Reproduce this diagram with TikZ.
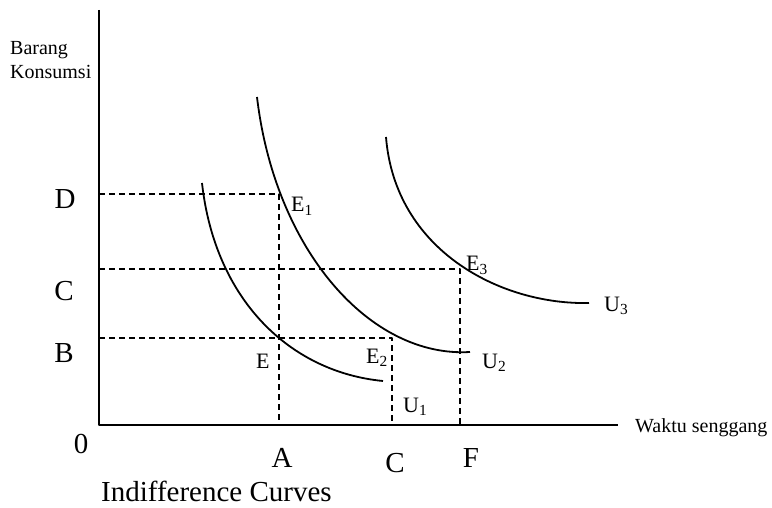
\documentclass[tikz,border=0pt]{standalone}
\usepackage{fontspec}
\setmainfont{Liberation Serif}
\begin{document}
\begin{tikzpicture}[x=1pt,y=-1pt,line join=round,
  axis/.style={line width=2.4pt},
  curve/.style={line width=1.8pt},
  guide/.style={line width=1.6pt,dash pattern=on 6pt off 4pt},
  biglbl/.style={anchor=base,inner sep=0pt,font=\fontsize{29}{32}\selectfont},
  ptlbl/.style={anchor=base west,inner sep=0pt,font=\fontsize{22}{25}\selectfont},
  axlbl/.style={inner sep=0pt,font=\fontsize{20}{24}\selectfont}]
\useasboundingbox (0,0) rectangle (772,508);
% sumbu
\coordinate (O) at (99,425);
\coordinate (ytop) at (99,10);
\coordinate (xend) at (618,425);
\draw[axis] (ytop) -- (O) -- (xend);
% titik keseimbangan
\coordinate (yD) at (99,194);
\coordinate (yC) at (99,269);
\coordinate (yB) at (99,338);
\coordinate (E1) at (279,194);
\coordinate (E3) at (460,269);
\coordinate (E2) at (392,338);
\coordinate (xA) at (279,425);
\coordinate (xF) at (460,425);
\coordinate (xC) at (392,425);
\draw[guide] (yD) -- (E1) -- (xA);
\draw[guide] (yC) -- (E3) -- (xF);
\draw[guide] (yB) -- (E2) -- (xC);
% kurva indiferen
\draw[curve] (202,183) .. controls (215,300) and (290,372) .. (383,381);
\draw[curve] (257,97) .. controls (275,250) and (370,358) .. (470,352);
\draw[curve] (386,137) .. controls (395,250) and (500,305) .. (589,303);
% label
\node[biglbl] (lD) at (65,209) {D};
\node[biglbl] (lC) at (64,300) {C};
\node[biglbl] (lB) at (64,362) {B};
\node[biglbl] (l0) at (81,453) {0};
\node[biglbl] (lA) at (282,467) {A};
\node[biglbl] (lCx) at (395,472) {C};
\node[biglbl] (lF) at (471,467) {F};
\node[ptlbl] (lE1) at (291,212) {E\textsubscript{1}};
\node[ptlbl] (lE3) at (466,271) {E\textsubscript{3}};
\node[ptlbl] (lE2) at (366,363) {E\textsubscript{2}};
\node[ptlbl] (lE) at (256,368) {E};
\node[ptlbl] (lU1) at (403,412) {U\textsubscript{1}};
\node[ptlbl] (lU2) at (482,368) {U\textsubscript{2}};
\node[ptlbl] (lU3) at (604,311) {U\textsubscript{3}};
\node[axlbl,anchor=west,align=left] (ylab) at (10,60) {Barang\\Konsumsi};
\node[axlbl,anchor=base west] (xlab) at (635,432) {Waktu senggang};
\node[biglbl,anchor=base west] (title) at (101,501) {Indifference Curves};
\end{tikzpicture}
\end{document}
